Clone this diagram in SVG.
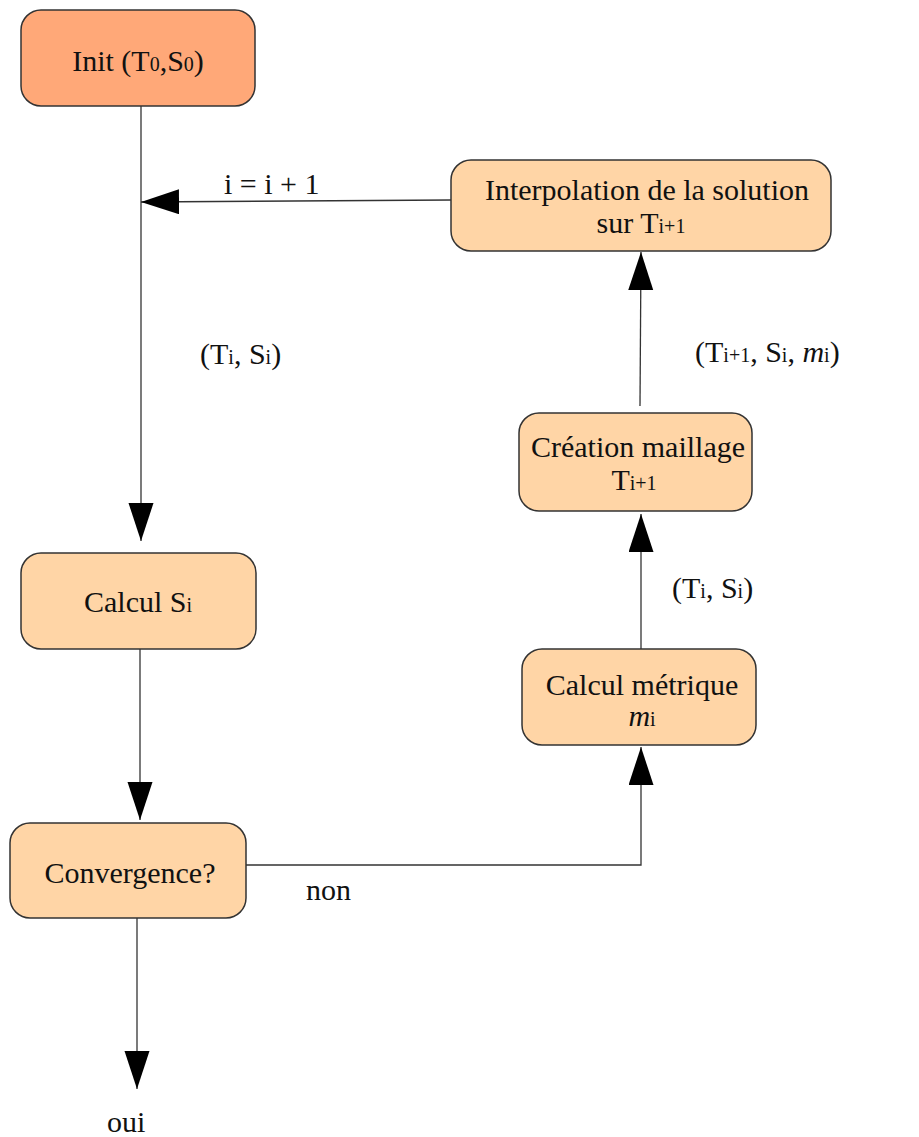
<svg xmlns="http://www.w3.org/2000/svg" width="919" height="1137" viewBox="0 0 919 1137">
<defs>
<marker id="arr" markerUnits="userSpaceOnUse" markerWidth="40" markerHeight="26" refX="38" refY="12.5" orient="auto">
<path d="M0,0 L38,12.5 L0,25 z" fill="#000"/>
</marker>
<style>
.box{fill:#FFD5A6;stroke:#333;stroke-width:1.5}
.init{fill:#FFA878;stroke:#333;stroke-width:1.5}
.t{font-size:30px;fill:#111}
.c{text-anchor:middle}
.s{font-size:20px}
.e{stroke:#333;stroke-width:1.3;fill:none}
</style>
</defs>
<rect width="919" height="1137" fill="#fff"/>
<g font-family="'Liberation Serif', 'Times New Roman', serif">
<g id="connectors">
<path class="e" d="M141,106 V541" marker-end="url(#arr)"/>
<path class="e" d="M140,649 V820" marker-end="url(#arr)"/>
<path class="e" d="M137,918 V1089" marker-end="url(#arr)"/>
<path class="e" d="M246,865 H641 V747" marker-end="url(#arr)"/>
<path class="e" d="M641,649 V514" marker-end="url(#arr)"/>
<path class="e" d="M640,406 L641,252" marker-end="url(#arr)"/>
<path class="e" d="M451,200 L141,202" marker-end="url(#arr)"/>
<text class="t" x="224" y="194">i = i + 1</text>
<text class="t" x="200" y="364">(T<tspan class="s">i</tspan>, S<tspan class="s">i</tspan>)</text>
<text class="t" x="695" y="362">(T<tspan class="s">i+1</tspan>, S<tspan class="s">i</tspan>, <tspan font-style="italic">m</tspan><tspan class="s">i</tspan>)</text>
<text class="t" x="672" y="598">(T<tspan class="s">i</tspan>, S<tspan class="s">i</tspan>)</text>
<text class="t" x="306" y="900">non</text>
<text class="t" x="107" y="1132">oui</text>
</g>
<g id="init">
<rect class="init" x="21" y="10" width="234" height="96" rx="20"/>
<text class="t c" x="138" y="71">Init (T<tspan class="s">0</tspan>,S<tspan class="s">0</tspan>)</text>
</g>
<g id="calculS">
<rect class="box" x="21" y="553" width="235" height="96" rx="20"/>
<text class="t c" x="138" y="612">Calcul S<tspan class="s">i</tspan></text>
</g>
<g id="convergence">
<rect class="box" x="10" y="823" width="236" height="95" rx="20"/>
<text class="t c" x="130" y="883">Convergence?</text>
</g>
<g id="metrique">
<rect class="box" x="522" y="649" width="234" height="96" rx="20"/>
<text class="t c" x="642" y="695">Calcul métrique</text>
<text class="t c" x="642" y="726"><tspan font-style="italic">m</tspan><tspan class="s">i</tspan></text>
</g>
<g id="creation">
<rect class="box" x="519" y="413" width="233" height="98" rx="20"/>
<text class="t c" x="638" y="457">Création maillage</text>
<text class="t c" x="634" y="490">T<tspan class="s">i+1</tspan></text>
</g>
<g id="interpolation">
<rect class="box" x="451" y="160" width="380" height="91" rx="20"/>
<text class="t c" x="647" y="200">Interpolation de la solution</text>
<text class="t c" x="641" y="233">sur T<tspan class="s">i+1</tspan></text>
</g>
</g>
</svg>
